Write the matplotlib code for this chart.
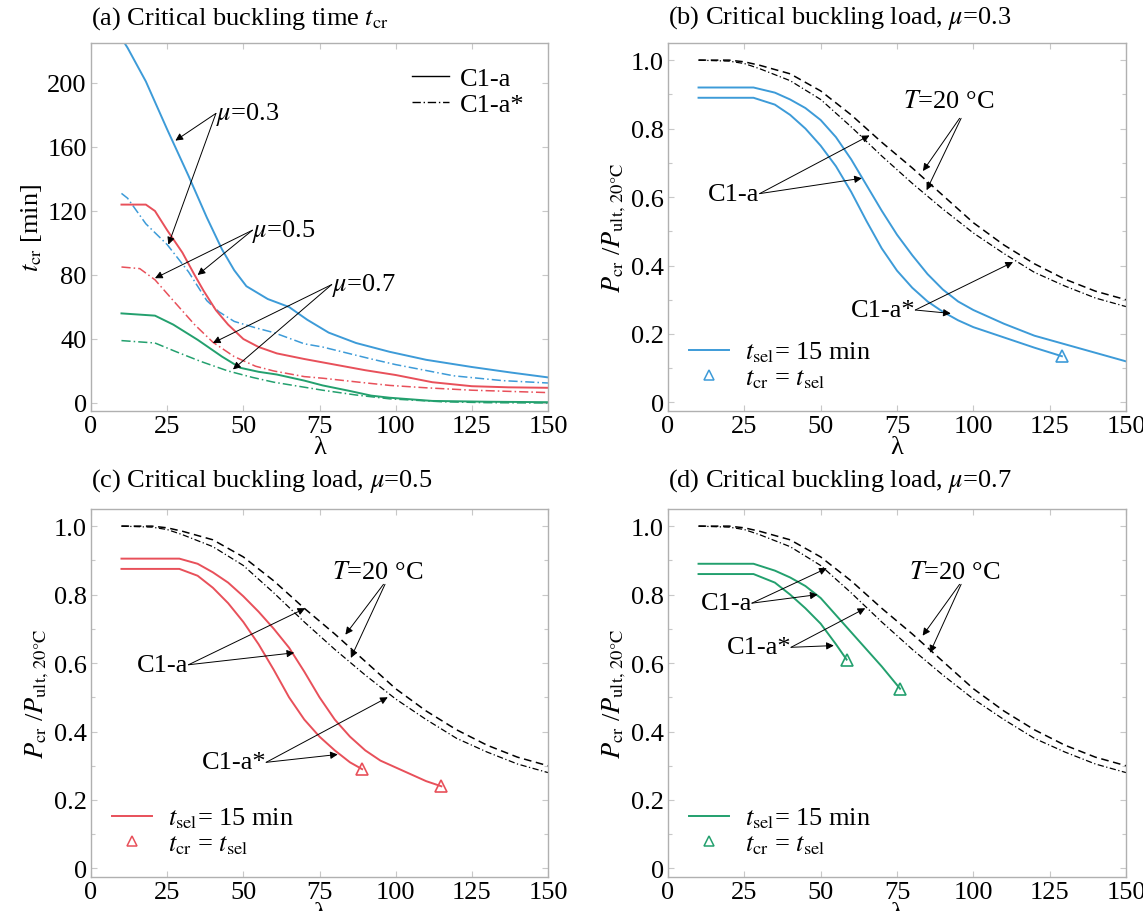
import matplotlib
matplotlib.use("Agg")
import matplotlib.pyplot as plt
from matplotlib.ticker import MultipleLocator
from matplotlib.lines import Line2D

plt.rcParams['font.family'] = ['Liberation Serif', 'DejaVu Serif']
plt.rcParams['mathtext.fontset'] = 'stix'
plt.rcParams['font.size'] = 19

BLUE = '#3d9bd8'
RED = '#e8505a'
GREEN = '#23a06e'

# (a) critical buckling time t_cr [min] vs slenderness
lam_a03 = [10, 12, 18, 25, 32, 38, 43, 47, 51, 58, 65, 71, 78, 87, 98, 110, 125, 138, 150]
tcr_a03 = [228, 222, 201, 171, 142, 116, 96, 83, 73, 65, 60, 52, 44, 37.5, 32, 27, 22.5, 19, 16]
lam_a03s = [10, 12, 18, 25, 32, 38, 42, 47, 54, 60, 70, 76, 92, 100, 119, 135, 150]
tcr_a03s = [131, 128, 112, 99, 82, 64, 57, 51, 47, 44, 37, 35, 27.5, 24, 17, 14, 12.5]
lam_a05 = [10, 18, 21, 25, 30, 34, 37, 41, 45, 50, 55, 61, 70, 80, 90, 100, 112, 125, 137, 150]
tcr_a05 = [124, 124, 120, 108, 94, 80, 70, 58, 49, 40, 35, 31, 27.5, 24, 20.5, 17.5, 13, 10.5, 9.8, 9.5]
lam_a05s = [10, 16, 21, 27, 34, 40, 47, 54, 60, 70, 76, 88, 98, 110, 125, 150]
tcr_a05s = [85, 84, 77, 64, 49, 38, 29, 23, 20, 16.5, 15.5, 13, 11, 9.5, 8, 6.5]
lam_a07 = [10, 21, 27, 35, 43, 49, 55, 61, 70, 76, 85, 92, 98, 112, 130, 150]
tcr_a07 = [56, 54.6, 49, 39.5, 29, 22, 19.5, 17.8, 14, 11, 7.5, 4.6, 3.3, 1.3, 0.8, 0.5]
lam_a07s = [10, 21, 28, 36, 45, 53, 60, 68, 76, 87, 98, 115, 130, 150]
tcr_a07s = [39, 37.5, 32, 26, 20, 16, 13, 10.5, 8, 5, 2.6, 0.8, 0.2, 0]

# T = 20 degC reference curves, P_cr / P_ult,20C (same in b, c, d)
lam_T = [10, 20, 25, 30, 40, 50, 60, 70, 80, 90, 100, 110, 120, 130, 140, 150]
p_T_a = [1.0, 1.0, 0.995, 0.985, 0.96, 0.91, 0.84, 0.76, 0.685, 0.605, 0.525, 0.46, 0.405, 0.36, 0.325, 0.30]
p_T_as = [1.0, 0.997, 0.99, 0.975, 0.94, 0.885, 0.805, 0.72, 0.64, 0.565, 0.495, 0.435, 0.38, 0.34, 0.305, 0.28]

# (b) mu = 0.3, t_sel = 15 min
lam_b = [10, 28, 35, 40, 45, 50, 55, 60, 65, 70, 75, 80, 85, 90, 95, 100, 110, 120, 130, 140, 150]
p_b = [0.92, 0.92, 0.905, 0.885, 0.86, 0.825, 0.775, 0.71, 0.635, 0.56, 0.49, 0.43, 0.375, 0.33, 0.295, 0.27, 0.23, 0.195, 0.17, 0.145, 0.12]
lam_bs = [10, 28, 35, 40, 45, 50, 55, 60, 65, 70, 75, 80, 85, 90, 95, 100, 110, 120, 129]
p_bs = [0.89, 0.89, 0.87, 0.84, 0.80, 0.75, 0.69, 0.615, 0.53, 0.45, 0.385, 0.335, 0.295, 0.265, 0.24, 0.22, 0.19, 0.16, 0.135]

# (c) mu = 0.5
lam_c = [10, 29, 35, 40, 45, 50, 55, 60, 65, 70, 75, 80, 85, 90, 95, 100, 105, 110, 115]
p_c = [0.905, 0.905, 0.89, 0.865, 0.835, 0.795, 0.75, 0.70, 0.645, 0.575, 0.50, 0.435, 0.385, 0.345, 0.315, 0.295, 0.275, 0.255, 0.24]
lam_cs = [10, 29, 35, 40, 45, 50, 55, 60, 65, 70, 75, 80, 85, 89]
p_cs = [0.875, 0.875, 0.855, 0.82, 0.775, 0.72, 0.655, 0.58, 0.50, 0.435, 0.385, 0.345, 0.31, 0.29]

# (d) mu = 0.7
lam_d = [10, 28, 35, 40, 45, 50, 55, 60, 65, 70, 76]
p_d = [0.89, 0.89, 0.87, 0.85, 0.825, 0.79, 0.74, 0.69, 0.64, 0.59, 0.525]
lam_ds = [10, 28, 35, 40, 45, 50, 55, 58.5]
p_ds = [0.86, 0.86, 0.835, 0.80, 0.76, 0.715, 0.655, 0.61]

W, H = 1143, 912
fig = plt.figure(figsize=(W / 100, H / 100), dpi=100)


def px_axes(left, top, right, bottom):
    return fig.add_axes([left / W, 1 - bottom / H, (right - left) / W, (bottom - top) / H])


ax_a = px_axes(91, 44, 548, 412)
ax_b = px_axes(668, 44, 1126, 412)
ax_c = px_axes(91, 510, 548, 878)
ax_d = px_axes(668, 510, 1126, 878)


def style(ax, ymajor, yminor):
    ax.set_xlim(0, 150)
    ax.xaxis.set_major_locator(MultipleLocator(25))
    ax.yaxis.set_major_locator(MultipleLocator(ymajor))
    if yminor:
        ax.yaxis.set_minor_locator(MultipleLocator(yminor))
    for s in ax.spines.values():
        s.set_color('#b0b0b0')
        s.set_linewidth(1.0)
    ax.tick_params(which='both', direction='in', top=True, right=True,
                   color='#c8c8c8', length=4, width=0.8, pad=3)
    ax.tick_params(which='minor', length=3)
    ax.set_xlabel('λ', labelpad=-1)


def arrow(ax, tail, head):
    ax.annotate('', xy=head, xytext=tail,
                arrowprops=dict(arrowstyle='-|>', color='k', lw=0.7,
                                mutation_scale=11, shrinkA=0, shrinkB=0))


# ---- (a)
ax = ax_a
style(ax, 40, None)
ax.set_ylim(-5, 225)
ax.set_yticks([0, 40, 80, 120, 160, 200])
ax.set_yticklabels(['0', '40', '80', '120', '160', '200'])
for lx, ly, lxs, lys, c in [(lam_a03, tcr_a03, lam_a03s, tcr_a03s, BLUE),
                            (lam_a05, tcr_a05, lam_a05s, tcr_a05s, RED),
                            (lam_a07, tcr_a07, lam_a07s, tcr_a07s, GREEN)]:
    ax.plot(lx, ly, color=c, lw=1.4)
    ax.plot(lxs, lys, color=c, lw=1.1, ls=(0, (6, 2, 1, 2)))
ax.set_ylabel(r'$t_{\rm cr}$ [min]', labelpad=2)
ax.text(0.0, 1.07, r'(a) Critical buckling time $t_{\rm cr}$', transform=ax.transAxes,
        ha='left', va='center')
ax.legend(handles=[Line2D([], [], color='k', lw=1.0),
                   Line2D([], [], color='k', lw=1.0, ls=(0, (6, 2, 1, 2)))],
          labels=['C1-a', 'C1-a*'], loc='upper right', frameon=False,
          handlelength=1.4, handletextpad=0.4, labelspacing=0.1,
          borderaxespad=0.5, fontsize=19)
ax.text(41, 181, r'$\mu$=0.3', ha='left', va='center')
arrow(ax, (41, 181), (27.7, 164))
arrow(ax, (41, 181), (25.4, 99))
ax.text(53, 108, r'$\mu$=0.5', ha='left', va='center')
arrow(ax, (53, 108), (21, 78))
arrow(ax, (53, 108), (35, 80))
ax.text(79, 74, r'$\mu$=0.7', ha='left', va='center')
arrow(ax, (79, 74), (40, 37.5))
arrow(ax, (79, 74), (46.6, 21))

# ---- (b), (c), (d)
panels = [
    (ax_b, '(b) Critical buckling load, $\\mu$=0.3', BLUE, lam_b, p_b, lam_bs, p_bs,
     [(129, 0.135)],
     dict(T=((77, 0.88), (95.5, 0.83), (83.5, 0.676), (84.7, 0.62)),
          a=((30, 0.61), (66, 0.78), (63.5, 0.655)),
          s=((81, 0.27), (113, 0.41), (92.6, 0.26)))),
    (ax_c, '(c) Critical buckling load, $\\mu$=0.5', RED, lam_c, p_c, lam_cs, p_cs,
     [(89, 0.29), (115, 0.24)],
     dict(T=((79, 0.865), (96, 0.83), (83.5, 0.683), (85.3, 0.615)),
          a=((32, 0.595), (70.3, 0.76), (66.7, 0.63)),
          s=((57.5, 0.31), (97.4, 0.50), (81, 0.333)))),
    (ax_d, '(d) Critical buckling load, $\\mu$=0.7', GREEN, lam_d, p_d, lam_ds, p_ds,
     [(58.5, 0.61), (76, 0.525)],
     dict(T=((79, 0.867), (95.5, 0.83), (83.4, 0.68), (85.8, 0.63)),
          a=((27.5, 0.775), (52, 0.877), (49, 0.80)),
          s=((40.3, 0.646), (64.6, 0.76), (54.3, 0.651)))),
]

for ax, title, c, lx, ly, lxs, lys, tri, ann in panels:
    style(ax, 0.2, 0.1)
    ax.set_ylim(-0.025, 1.05)
    ax.set_yticks([0, 0.2, 0.4, 0.6, 0.8, 1.0])
    ax.set_yticklabels(['0', '0.2', '0.4', '0.6', '0.8', '1.0'])
    ax.plot(lam_T, p_T_a, color='k', lw=1.1, ls=(0, (5, 3)))
    ax.plot(lam_T, p_T_as, color='k', lw=0.9, ls=(0, (5, 2, 1, 2)))
    ax.plot(lx, ly, color=c, lw=1.4)
    ax.plot(lxs, lys, color=c, lw=1.4)
    ax.plot([t[0] for t in tri], [t[1] for t in tri], ls='none', marker='^',
            ms=8, mfc='none', mec=c, mew=1.2)
    ax.set_ylabel(r'$P_{\rm cr}$ /$P_{\rm ult,\,20°C}$', labelpad=2)
    ty = 1.07 if ax is ax_b else 1.08
    ax.text(0.0, ty, title, transform=ax.transAxes, ha='left', va='center')
    ax.legend(handles=[Line2D([], [], color=c, lw=1.4),
                       Line2D([], [], ls='none', marker='^', ms=7, mfc='none', mec=c, mew=1.1)],
              labels=[r'$t_{\rm sel}$= 15 min', r'$t_{\rm cr}$ = $t_{\rm sel}$'],
              loc='lower left', frameon=False, handlelength=1.5, handletextpad=0.6,
              labelspacing=0.05, borderaxespad=0.4, fontsize=19)
    (tt, t1, h1, h2) = ann['T']
    ax.text(tt[0], tt[1], r'$T$=20 °C', ha='left', va='center')
    arrow(ax, t1, h1)
    arrow(ax, (t1[0] + 0.5, t1[1]), h2)
    ta, h1, h2 = ann['a']
    ax.text(ta[0], ta[1], 'C1-a', ha='right', va='center')
    arrow(ax, ta, h1)
    arrow(ax, ta, h2)
    ts, h1, h2 = ann['s']
    ax.text(ts[0], ts[1], 'C1-a*', ha='right', va='center')
    arrow(ax, ts, h1)
    arrow(ax, ts, h2)

fig.savefig('out.png', dpi=100)
